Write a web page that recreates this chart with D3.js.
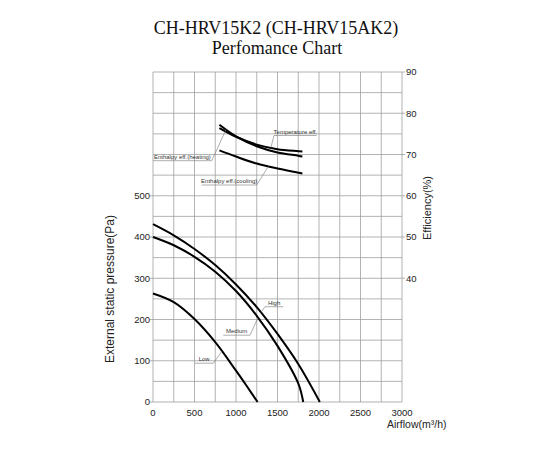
<!DOCTYPE html>
<html>
<head>
<meta charset="utf-8">
<script src="https://cdn.jsdelivr.net/npm/d3@7"></script>
<style>
  body { margin: 0; background: #fff; }
  svg { display: block; }
  text { font-family: "Liberation Sans", Arial, sans-serif; fill: #222; }
  .title { font-family: "Liberation Serif", "Times New Roman", serif; font-size: 18px; fill: #111; }
</style>
</head>
<body>
<div id="chart"></div>
<script>
// tick labels
const airflowTicks = [0, 500, 1000, 1500, 2000, 2500, 3000];
const pressureTicks = [0, 100, 200, 300, 400, 500];
const efficiencyTicks = [40, 50, 60, 70, 80, 90];

// fan curves: airflow (m3/h) vs external static pressure (Pa)
const highFlow = [0, 250, 500, 750, 1000, 1250, 1500, 1750, 2010];
const highPressure = [431, 404, 371, 332, 285, 230, 165, 92, 0];
const mediumFlow = [0, 250, 500, 750, 1000, 1250, 1500, 1750, 1810];
const mediumPressure = [400, 380, 352, 316, 269, 209, 136, 45, 0];
const lowFlow = [0, 250, 500, 750, 1000, 1125, 1260];
const lowPressure = [263, 242, 201, 145, 76, 40, 0];

// efficiency curves (%)
const effFlow = [800, 1000, 1250, 1500, 1750, 1800];
const tempEff = [76.4, 74.3, 72.4, 71.3, 70.8, 70.7];
const heatingEff = [77.2, 74.4, 72.0, 70.5, 69.7, 69.5];
const coolingEff = [71.0, 69.5, 67.8, 66.6, 65.6, 65.4];

const W = 550, H = 450;
const svg = d3.select("#chart").append("svg").attr("width", W).attr("height", H);

const x = d3.scaleLinear().domain([0, 3000]).range([153, 402]);
const y = d3.scaleLinear().domain([0, 800]).range([402, 72]);      // pressure, grid spans up to 800 Pa
const ye = d3.scaleLinear().domain([10, 90]).range([402, 72]);     // efficiency shares the grid

// title
svg.append("text").attr("class", "title").attr("x", 276).attr("y", 34)
    .attr("text-anchor", "middle").text("CH-HRV15K2 (CH-HRV15AK2)");
svg.append("text").attr("class", "title").attr("x", 277).attr("y", 54)
    .attr("text-anchor", "middle").text("Perfomance Chart");

// grid
const grid = svg.append("g").attr("stroke", "#a0a0a0").attr("stroke-width", 0.8);
grid.selectAll("line.v").data(d3.range(0, 3001, 250)).enter().append("line")
    .attr("x1", d => x(d)).attr("x2", d => x(d))
    .attr("y1", y(0)).attr("y2", y(800));
grid.selectAll("line.h").data(d3.range(0, 801, 50)).enter().append("line")
    .attr("x1", x(0)).attr("x2", x(3000))
    .attr("y1", d => y(d)).attr("y2", d => y(d));

// ticks outside the frame
grid.selectAll("line.lt").data(pressureTicks).enter().append("line")
    .attr("x1", x(0) - 3).attr("x2", x(0))
    .attr("y1", d => y(d)).attr("y2", d => y(d));
grid.selectAll("line.rt").data(efficiencyTicks).enter().append("line")
    .attr("x1", x(3000)).attr("x2", x(3000) + 3)
    .attr("y1", d => ye(d)).attr("y2", d => ye(d));

// tick labels
const tickFont = 9.5;
svg.append("g").selectAll("text").data(airflowTicks).enter().append("text")
    .attr("x", d => x(d)).attr("y", 416).attr("text-anchor", "middle")
    .style("font-size", tickFont + "px").text(d => d);
svg.append("g").selectAll("text").data(pressureTicks).enter().append("text")
    .attr("x", x(0) - 3).attr("y", d => y(d)).attr("dy", "0.35em").attr("text-anchor", "end")
    .style("font-size", tickFont + "px").text(d => d);
svg.append("g").selectAll("text").data(efficiencyTicks).enter().append("text")
    .attr("x", x(3000) + 4).attr("y", d => ye(d)).attr("dy", "0.35em")
    .style("font-size", tickFont + "px").text(d => d);

// axis titles
svg.append("text").attr("x", 387).attr("y", 428)
    .style("font-size", "10.5px").text("Airflow(m³/h)");
svg.append("text").attr("transform", "translate(114,289) rotate(-90)")
    .attr("text-anchor", "middle").style("font-size", "12px").text("External static pressure(Pa)");
svg.append("text").attr("transform", "translate(431,208) rotate(-90)")
    .attr("text-anchor", "middle").style("font-size", "11px").text("Efficiency(%)");

// curves
const smooth = d3.curveCatmullRom.alpha(0.5);
const pressureLine = d3.line().x(d => x(d[0])).y(d => y(d[1])).curve(smooth);
const effLine = d3.line().x(d => x(d[0])).y(d => ye(d[1])).curve(smooth);

const fanCurves = {
    high: d3.zip(highFlow, highPressure),
    medium: d3.zip(mediumFlow, mediumPressure),
    low: d3.zip(lowFlow, lowPressure)
};
const effCurves = {
    temp: d3.zip(effFlow, tempEff),
    heating: d3.zip(effFlow, heatingEff),
    cooling: d3.zip(effFlow, coolingEff)
};

const curveG = svg.append("g").attr("fill", "none").attr("stroke", "#000").attr("stroke-width", 2);
Object.values(fanCurves).forEach(pts => curveG.append("path").attr("d", pressureLine(pts)));
Object.values(effCurves).forEach(pts => curveG.append("path").attr("d", effLine(pts)));

// value on a curve at a given flow (linear between read points)
function valueAt(pts, q) {
    for (let i = 1; i < pts.length; i++) {
        if (q <= pts[i][0]) {
            const t = (q - pts[i - 1][0]) / (pts[i][0] - pts[i - 1][0]);
            return pts[i - 1][1] + t * (pts[i][1] - pts[i - 1][1]);
        }
    }
    return pts[pts.length - 1][1];
}

// curve labels: underline from q0 to q1 at level v, leader from 'from' end to the curve at flow 'at'
const labels = [
    { text: "Temperature eff.", pts: effCurves.temp, scale: ye, q0: 1458, q1: 1972, v: 74.6, from: "start", at: 1420 },
    { text: "Enthalpy eff.(heating)", pts: effCurves.heating, scale: ye, q0: 0, q1: 708, v: 68.5, from: "end", at: 880 },
    { text: "Enthalpy eff.(cooling)", pts: effCurves.cooling, scale: ye, q0: 587, q1: 1249, v: 62.6, from: "end", at: 1390 },
    { text: "High", pts: fanCurves.high, scale: y, q0: 1349, q1: 1570, v: 231, from: "start", at: 1300 },
    { text: "Medium", pts: fanCurves.medium, scale: y, q0: 847, q1: 1169, v: 162, from: "end", at: 1265 },
    { text: "Low", pts: fanCurves.low, scale: y, q0: 506, q1: 727, v: 94, from: "end", at: 830 }
];

const labelG = svg.append("g");
labels.forEach(l => {
    const ly = l.scale(l.v);
    const x0 = x(l.q0), x1 = x(l.q1);
    labelG.append("line").attr("x1", x0).attr("x2", x1).attr("y1", ly).attr("y2", ly)
        .attr("stroke", "#777").attr("stroke-width", 0.6);
    const sx = l.from === "start" ? x0 : x1;
    labelG.append("line").attr("x1", sx).attr("y1", ly)
        .attr("x2", x(l.at)).attr("y2", l.scale(valueAt(l.pts, l.at)))
        .attr("stroke", "#777").attr("stroke-width", 0.6);
    labelG.append("text").attr("x", (x0 + x1) / 2).attr("y", ly - 1.8)
        .attr("text-anchor", "middle").style("font-size", "6px").style("fill", "#333")
        .text(l.text);
});
</script>
</body>
</html>
